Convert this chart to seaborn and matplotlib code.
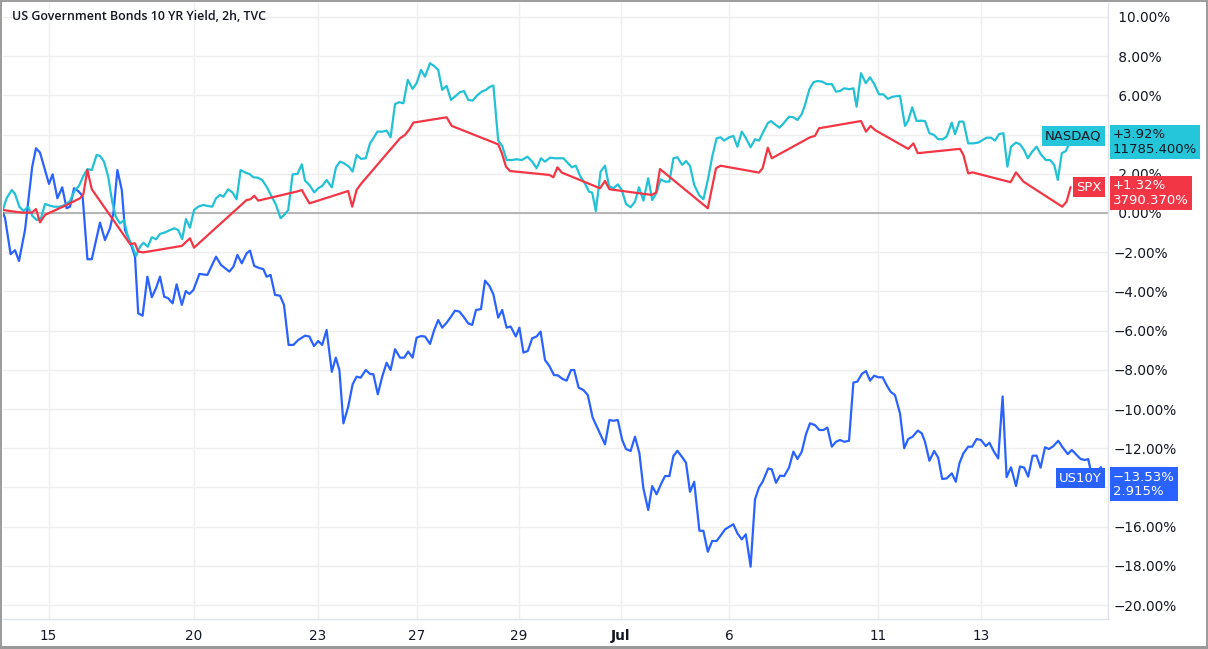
import matplotlib
matplotlib.use("Agg")
import matplotlib.pyplot as plt
import matplotlib.transforms as mtransforms
from matplotlib.patches import Rectangle
import seaborn as sns
import pandas as pd

# style first, then fonts (set_style resets font.family)
sns.set_style("white")
plt.rcParams["font.family"] = ["DejaVu Sans"]

## data (x = 2h bar index, y = % change since start)
us10y_bar = [0, 0.5, 1.9, 3, 4, 5.5, 7.3, 8.25, 9.25, 11.5, 12.4, 13.6, 14.8, 15.9, 16.75, 17.75, 18.8, 19.9,
             21.1, 22.2, 24.25, 25.5, 26.75, 27.6, 28.6, 29.7, 30.5, 31.75, 33, 33.8, 34.9, 36.1, 37.2, 38.25,
             39.25, 40.3, 41.3, 42.4, 43.4, 44.7, 45.7, 46.6, 47.6, 49.1, 51.1, 53.25, 54.5, 56.6, 57.6, 58.6,
             59.7, 60.9, 61.75, 62.8, 63.8, 65.1, 65.9, 66.9, 68, 69.25, 70.25, 71.4, 72.6, 73.8, 75.5, 76.6,
             77.75, 78.8, 79.8, 80.9, 82.2, 83.2, 84.1, 85.1, 86.3, 87.4, 88.4, 89.4, 90.7, 91.75, 92.6, 93.7,
             94.8, 95.9, 96.9, 98, 99.25, 100.3, 101.3, 102.4, 103.4, 104.5, 105.5, 106.75, 107.8, 108.8, 109.8,
             110.9, 112, 113, 114.1, 115.25, 116.3, 117.3, 118.25, 119.5, 120.5, 121.6, 122.6, 123.8, 124.8,
             125.9, 126.9, 128.2, 129.1, 130.1, 131.2, 132.3, 133.4, 134.4, 135.5, 136.6, 137.75, 138.7, 139.9,
             140.9, 142, 142.8, 143.9, 145.1, 146.2, 147.4, 150.5, 151.6, 152.6, 153.7, 154.8, 155.75, 156.9,
             158, 159.1, 160.1, 161.3, 162.3, 163.4, 164.5, 165.5, 166.6, 167.6, 168.6, 169.7, 170.75, 171.75,
             172.8, 174.1, 175.1, 176.2, 177.3, 178.4, 179.5, 180.5, 181.6, 182.6, 183.6, 184.7, 185.7, 186.9,
             188, 189, 189.9, 191.3, 192.2, 193.25, 194.25, 195.3, 196.5, 197.6, 198.6, 199.7, 200.75, 201.75,
             203, 204.1, 205.1, 206.1, 207.2, 208.25, 209.25, 210.3, 211.5, 212.6, 213.6, 214.7, 215.75, 216.75,
             217.8, 218.8, 219.9, 220.9, 221.9, 223, 224.25, 225.3, 226.3, 227.4, 228.7, 229.7, 230.5, 231.6,
             232.8, 233.8, 234.8, 235.9, 237.2, 238.2, 239.1, 240.1, 241.3, 242.3, 243.4, 244.5, 245.7, 246.6,
             247.75, 248.8, 249.9, 250.9, 252, 253.25, 254.25, 255.3, 256.3, 257.4, 258.4, 259.4, 260.5, 261.5,
             262.6, 263.8, 264.9, 266.2, 267.2, 268.25, 269.4, 270.5, 271.3, 272, 273.25, 274.5, 275.25]
us10y_pct = [0.0, -0.25, -2.1, -1.9, -2.45, -0.87, 2.36, 3.3, 3.08, 1.48, 1.97, 0.75, 1.31, 0.24, 0.32, 1.26, 1.12,
             0.87, -2.36, -2.36, -0.49, -1.38, -0.78, 0.0, 2.19, 1.17, -0.87, -1.46, -2.23, -5.12, -5.24, -3.25,
             -4.3, -3.84, -3.25, -4.27, -4.35, -4.61, -3.64, -4.69, -3.98, -4.13, -3.93, -3.11, -3.16, -2.23,
             -2.65, -2.99, -2.74, -2.14, -2.57, -2.06, -1.92, -2.7, -2.79, -2.87, -3.25, -3.16, -4.18, -4.22,
             -4.69, -6.73, -6.73, -6.48, -6.26, -6.3, -6.79, -6.53, -6.73, -5.97, -8.1, -7.38, -8.01, -10.73,
             -9.88, -8.74, -8.35, -8.4, -8.01, -8.21, -8.23, -9.25, -8.35, -7.64, -8.01, -6.95, -7.38, -7.38,
             -7.07, -7.38, -6.36, -6.28, -6.3, -6.68, -5.97, -5.46, -5.85, -5.6, -5.29, -4.98, -5.03, -5.32,
             -5.63, -5.71, -4.95, -4.9, -3.45, -3.72, -4.15, -5.34, -4.95, -5.85, -5.79, -6.3, -5.85, -7.12,
             -7.04, -6.39, -6.3, -6.05, -7.5, -7.81, -8.27, -8.28, -8.47, -8.55, -8.01, -8.01, -8.91, -9.03,
             -9.29, -10.43, -11.8, -10.56, -10.6, -10.56, -11.58, -12.04, -12.14, -11.41, -12.26, -14.05, -15.15,
             -13.93, -14.35, -13.83, -13.42, -13.42, -12.4, -12.13, -12.43, -12.74, -14.22, -13.71, -16.21,
             -16.21, -17.28, -16.73, -16.73, -16.43, -16.14, -16.0, -15.88, -16.34, -16.65, -16.39, -18.04,
             -14.61, -14.0, -13.71, -13.03, -13.08, -13.76, -13.4, -13.42, -12.99, -12.17, -12.55, -12.17,
             -11.28, -10.73, -10.82, -11.07, -11.07, -10.95, -11.92, -11.67, -11.58, -11.67, -11.62, -8.65,
             -8.6, -8.21, -8.06, -8.55, -8.3, -8.38, -8.38, -8.78, -9.12, -9.29, -10.22, -12.0, -11.53, -11.41,
             -11.1, -11.24, -11.67, -12.64, -12.14, -12.48, -13.57, -13.54, -13.28, -13.71, -12.77, -12.26,
             -11.92, -11.92, -11.53, -11.58, -11.89, -11.72, -12.18, -12.52, -9.36, -13.48, -12.97, -13.93,
             -12.93, -12.99, -13.45, -12.38, -12.38, -12.99, -11.95, -12.04, -11.89, -11.62, -11.95, -12.3,
             -12.09, -12.31, -12.55, -12.6, -12.55, -13.2, -13.2, -12.97, -13.53]

nasdaq_bar = [0, 0.9, 2.2, 3, 4.1, 5.1, 6.3, 7.3, 8.4, 9.5, 10.5, 11.75, 12.8, 14.25, 15.5, 16.75, 18, 19, 20.1,
              21.1, 22.2, 23.4, 24.25, 25.25, 26.3, 27.3, 28.2, 29.25, 30.25, 31.3, 32.4, 33.25, 34.25, 35.1,
              36.2, 37.2, 38.25, 39.25, 40.5, 41.75, 42.8, 43.8, 44.8, 45.75, 46.75, 47.75, 48.8, 50.1, 51.1,
              52.3, 53.25, 54.25, 55.1, 56.3, 57.4, 58.4, 59.4, 60.5, 61.6, 62.6, 63.7, 64.8, 65.9, 67.2, 68.25,
              69.4, 70.3, 71.3, 72.4, 73.6, 74.7, 75.5, 76.6, 77.8, 78.8, 79.8, 80.9, 82.2, 83.25, 84.25, 85.3,
              86.5, 87.4, 88.4, 89.5, 90.7, 91.75, 92.6, 93.6, 94.8, 95.9, 96.9, 98, 99, 100.1, 101.2, 102.4,
              103.4, 104.5, 105.5, 106.75, 107.75, 108.8, 109.8, 110.9, 112, 113.2, 114.25, 115.25, 116.3,
              117.4, 118.4, 119.7, 120.75, 121.75, 122.6, 123.8, 124.8, 125.9, 127.2, 128.4, 129.7, 131.1,
              132.3, 133.4, 134.5, 135.5, 136.75, 138, 139.1, 140.1, 141.3, 142.2, 143.2, 144.25, 145.5, 146.5,
              147.3, 148.2, 149.4, 150.5, 151.5, 152.6, 153.7, 154.7, 155.75, 156.9, 158, 159, 160.1, 161.3,
              162.3, 163.4, 164.4, 165.5, 166.6, 167.6, 168.6, 169.8, 170.75, 171.75, 172.8, 174, 175.1, 176.3,
              177.3, 178.4, 179.4, 180.3, 181.5, 182.6, 183.6, 184.7, 185.75, 186.9, 188, 189, 190.1, 191.2,
              192, 193.2, 194.1, 195.3, 196.5, 197.6, 198.6, 199.7, 200.5, 201.6, 202.6, 203.7, 204.8, 205.9,
              207.2, 208.25, 209.25, 210.3, 211.5, 212.6, 213.4, 214.5, 215.7, 216.75, 217.8, 219, 220.1, 221.2,
              222.4, 224.25, 225.5, 226.3, 227.3, 228.4, 229.4, 230.5, 231.6, 232.75, 233.8, 234.9, 235.9,
              237.2, 238, 239.1, 240.1, 241.3, 242.6, 243.8, 244.9, 245.9, 247, 248, 249, 250.1, 251.1, 252,
              253.25, 254.25, 255.25, 256.2, 257.3, 258.4, 259.4, 260.7, 261.75, 262.8, 263.7, 264.7, 265.7,
              266.6, 267.25]
nasdaq_pct = [0.19, 0.75, 1.17, 0.97, 0.32, 0.1, 0.32, -0.14, -0.36, -0.27, 0.46, 0.37, 0.32, 0.32, 0.41, 0.61,
              1.17, 1.38, 1.89, 2.24, 2.19, 2.96, 2.91, 2.62, 1.85, 0.58, -0.19, -0.53, -0.36, -1.29, -1.72,
              -2.19, -1.72, -1.52, -1.72, -1.24, -1.34, -1.07, -0.99, -0.87, -0.78, -0.87, -1.33, -0.31, -0.75,
              0.15, 0.32, 0.41, 0.36, 0.32, 0.75, 0.92, 0.83, 1.21, 1.04, 0.7, 2.19, 2.07, 1.99, 1.82, 1.8, 1.68,
              1.34, 0.83, 0.41, -0.27, -0.1, 0.15, 1.97, 1.99, 2.48, 1.65, 1.43, 1.05, 1.26, 1.38, 1.68, 1.31,
              2.33, 2.62, 2.53, 2.36, 2.11, 2.96, 2.76, 2.79, 3.55, 3.81, 4.15, 4.15, 4.2, 3.86, 5.55, 5.65, 5.6,
              6.79, 6.33, 6.62, 7.3, 6.95, 7.64, 7.5, 7.3, 6.28, 6.48, 5.77, 5.98, 6.16, 6.22, 5.77, 5.73, 5.97,
              6.19, 6.28, 6.44, 6.5, 3.69, 3.42, 2.7, 2.7, 2.74, 2.7, 2.87, 2.62, 2.28, 2.79, 2.62, 2.82, 2.79,
              2.79, 2.79, 2.53, 2.33, 2.41, 1.9, 1.5, 1.09, 1.04, 0.1, 2.11, 2.41, 1.38, 1.26, 1.46, 1.17, 0.46,
              0.29, 0.58, 1.31, 0.63, 1.77, 0.66, 1.04, 1.72, 1.6, 1.6, 2.79, 2.84, 2.45, 2.65, 2.4, 1.43, 0.92,
              0.7, 1.77, 2.87, 3.81, 3.86, 3.69, 3.86, 3.93, 3.38, 4.15, 3.81, 3.35, 3.76, 3.69, 4.15, 4.58,
              4.69, 4.49, 4.35, 4.61, 4.91, 4.88, 4.74, 5.05, 5.51, 6.31, 6.67, 6.73, 6.7, 6.57, 6.58, 6.19,
              6.22, 6.36, 6.31, 6.36, 5.42, 7.13, 6.62, 6.92, 6.58, 6.05, 6.05, 5.82, 5.93, 5.98, 4.44, 4.71,
              5.39, 4.69, 4.71, 4.69, 4.07, 3.98, 3.76, 3.76, 3.89, 4.61, 4.02, 4.66, 4.66, 3.55, 3.55, 3.59,
              3.72, 3.84, 3.84, 3.69, 4.02, 4.07, 2.36, 3.38, 3.59, 3.5, 3.21, 2.79, 3.13, 3.38, 3.01, 2.7, 2.7,
              2.45, 1.68, 3.05, 3.16, 3.55, 3.92]

spx_bar = [0, 1.75, 4.7, 7.2, 8.25, 9.25, 10.5, 15.9, 19.25, 20.1, 21.1, 22.2, 31.75, 33, 33.8, 35.1, 44.7,
           46.75, 47.75, 60.9, 61.9, 62.8, 63.8, 73.4, 74.7, 76.6, 86.3, 87.3, 88.4, 89.4, 99.25, 100.5, 101.6,
           102.6, 110.9, 112.2, 123.8, 124.7, 125.75, 126.75, 136.6, 137.6, 138.6, 139.7, 144.25, 149.25, 150.5,
           151.6, 162.2, 163.25, 164.25, 176.2, 178.25, 179.4, 189, 189.9, 191.2, 192.2, 201.75, 203, 204,
           214.5, 215.75, 216.9, 218, 226.3, 227.6, 228.7, 239.25, 240.1, 241.3, 242.4, 251.9, 253.25, 255.1,
           264.8, 265.9, 266.9]
spx_pct = [0.15, 0.1, 0.02, 0.02, 0.2, -0.48, -0.1, 0.41, 0.75, 0.97, 2.19, 1.21, -1.58, -1.55, -1.97, -2.01,
           -1.68, -1.29, -1.77, 0.66, 0.7, 0.88, 0.63, 1.09, 1.17, 0.49, 1.12, 0.32, 1.17, 1.46, 3.81, 3.98,
           4.27, 4.61, 4.88, 4.44, 3.5, 3.05, 2.36, 2.14, 1.94, 1.82, 2.33, 2.06, 1.68, 1.26, 1.63, 1.21, 0.92,
           1.04, 2.24, 0.24, 2.28, 2.41, 2.06, 2.28, 3.33, 2.79, 3.86, 3.93, 4.32, 4.69, 4.15, 4.44, 4.23, 3.27,
           3.55, 3.05, 3.27, 2.96, 2.02, 2.07, 1.57, 2.07, 1.6, 0.32, 0.58, 1.32]

SERIES = ["US10Y", "NASDAQ", "SPX"]
COLORS = ["#2962ff", "#22c1d6", "#f23645"]
LAST_CHANGE = [-13.53, 3.92, 1.32]
LAST_PRICE = ["2.915%", "11785.400%", "3790.370%"]

TICK_BARS = [11.4, 47.75, 78.75, 103.5, 129, 154.5, 181.5, 218.75, 244.5]
TICK_LABELS = ["15", "20", "23", "27", "29", "Jul", "6", "11", "13"]
Y_TICKS = list(range(-20, 11, 2))
# price-scale labels that sit under the last-value boxes in the original
Y_HIDDEN = [4, -14]

TITLE = "US Government Bonds 10 YR Yield, 2h, TVC"


def pct_label(v):
    if v in Y_HIDDEN:
        return ""
    if v < 0:
        return "\u2212" + f"{abs(v):.2f}%"
    return " " + f"{v:.2f}%"


def main():
    df = pd.concat([
        pd.DataFrame({"bar": us10y_bar, "pct": us10y_pct, "series": "US10Y"}),
        pd.DataFrame({"bar": nasdaq_bar, "pct": nasdaq_pct, "series": "NASDAQ"}),
        pd.DataFrame({"bar": spx_bar, "pct": spx_pct, "series": "SPX"}),
    ])

    W, H = 1208, 649
    fig = plt.figure(figsize=(W / 100, H / 100), dpi=100)
    ax = fig.add_axes([3 / W, 1 - 619 / H, 1105 / W, 616 / H])

    ax.axhline(0, color="#a3a3a3", lw=1.1, zorder=1)
    sns.lineplot(data=df, x="bar", y="pct", hue="series", hue_order=SERIES,
                 palette=dict(zip(SERIES, COLORS)), estimator=None, sort=False,
                 lw=1.6, legend=False, ax=ax, zorder=3)

    ax.set_xlim(0, 276.25)
    ax.set_ylim(-20.71, 10.71)
    ax.set_xlabel("")
    ax.set_ylabel("")

    # price scale on the right
    ax.yaxis.tick_right()
    ax.set_yticks(Y_TICKS)
    ax.set_yticklabels([pct_label(v) for v in Y_TICKS])
    ax.tick_params(axis="y", length=0, pad=4, labelsize=9.8, labelcolor="#131722")

    ax.set_xticks(TICK_BARS)
    ax.set_xticklabels(TICK_LABELS)
    ax.tick_params(axis="x", length=0, pad=7, labelsize=9.8, labelcolor="#131722")
    ax.get_xticklabels()[TICK_LABELS.index("Jul")].set_fontweight("bold")

    ax.grid(True, color="#efefef", lw=1)
    for s in ["top", "left"]:
        ax.spines[s].set_visible(False)
    for s in ["right", "bottom"]:
        ax.spines[s].set_color("#e0e3eb")
        ax.spines[s].set_linewidth(1)

    fig.text(12 / W, 1 - 17 / H, TITLE, ha="left", va="center", fontsize=8.9,
             color="#131722", family=["Open Sans", "DejaVu Sans"], fontweight="semibold")

    # last value labels
    trans = mtransforms.blended_transform_factory(ax.transAxes, ax.transData)
    for name, color, chg, price in zip(SERIES, COLORS, LAST_CHANGE, LAST_PRICE):
        txt_color = "#131722" if name == "NASDAQ" else "white"
        box_color = "#26c6da" if name == "NASDAQ" else color
        ax.annotate(name, xy=(1.0, chg), xycoords=trans, xytext=(-4.5, 0),
                    textcoords="offset points", ha="right", va="center",
                    fontsize=9.5, color=txt_color, annotation_clip=False, zorder=6,
                    bbox=dict(boxstyle="square,pad=0.25", fc=box_color, ec="none"))
        sign = "+" if chg >= 0 else "\u2212"
        ax.annotate(f"{sign}{abs(chg):.2f}%\n{price}", xy=(1.0, chg), xycoords=trans,
                    xytext=(3.5, 5.5), textcoords="offset points", ha="left", va="top",
                    fontsize=9.5, color=txt_color, linespacing=1.15, annotation_clip=False,
                    zorder=6, bbox=dict(boxstyle="square,pad=0.25", fc=box_color, ec="none"))

    # outer frame
    fig.patches.append(Rectangle((0.5 / W, 2 / H), 1 - 2 / W, 1 - 2.5 / H, transform=fig.transFigure,
                                 fill=False, ec="#8a8a8a", lw=1.2))
    fig.patches.append(Rectangle((0, 0), 1, 3 / H, transform=fig.transFigure,
                                 fc="#9a9a9a", ec="none"))

    fig.savefig("out.png", dpi=100)


if __name__ == "__main__":
    main()
